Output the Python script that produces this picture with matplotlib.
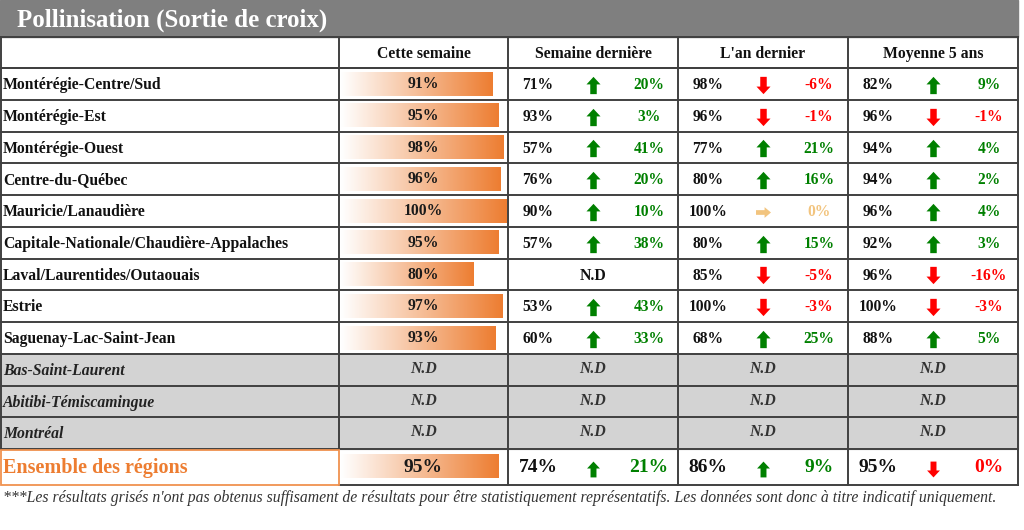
import numpy as np
import matplotlib
matplotlib.use('Agg')
import matplotlib.pyplot as plt
from matplotlib.path import Path
from matplotlib.patches import Rectangle
from matplotlib.colors import LinearSegmentedColormap

# Data
title = 'Pollinisation (Sortie de croix)'
headers = ['Cette semaine', 'Semaine dernière', "L'an dernier", 'Moyenne 5 ans']
regions = ['Montérégie-Centre/Sud', 'Montérégie-Est', 'Montérégie-Ouest', 'Centre-du-Québec',
           'Mauricie/Lanaudière', 'Capitale-Nationale/Chaudière-Appalaches',
           'Laval/Laurentides/Outaouais', 'Estrie', 'Saguenay-Lac-Saint-Jean',
           'Bas-Saint-Laurent', 'Abitibi-Témiscamingue', 'Montréal']
this_week = [91, 95, 98, 96, 100, 95, 80, 97, 93, None, None, None]
last_week = [71, 93, 57, 76, 90, 57, None, 53, 60, None, None, None]
last_week_diff = [20, 3, 41, 20, 10, 38, None, 43, 33, None, None, None]
last_year = [98, 96, 77, 80, 100, 80, 85, 100, 68, None, None, None]
last_year_diff = [-6, -1, 21, 16, 0, 15, -5, -3, 25, None, None, None]
avg5 = [82, 96, 94, 94, 96, 92, 96, 100, 88, None, None, None]
avg5_diff = [9, -1, 4, 2, 4, 3, -16, -3, 5, None, None, None]
grey_rows = ['Bas-Saint-Laurent', 'Abitibi-Témiscamingue', 'Montréal']

total_label = 'Ensemble des régions'
total_this_week = 95
total_values = [74, 86, 95]
total_diffs = [21, 9, -0.3]

footer = ("***Les résultats grisés n'ont pas obtenus suffisament de résultats pour être "
          "statistiquement représentatifs. Les données sont donc à titre indicatif uniquement.")

# Style
FONT = 'Liberation Serif'
LINE = '#404040'
GREEN = '#008000'
RED = '#FF0000'
NEUTRAL = '#F2C47E'
ORANGE = '#ED7D31'
GREY_BG = '#D3D3D3'

col_x = [1, 339, 508, 678, 848, 1018]
head_top, head_bot = 37, 68
row_h = 31.75
row_y = [head_bot + i * row_h for i in range(len(regions) + 1)]
tot_top, tot_bot = row_y[-1], 485
bar_full = 166

up = Path([(0, 8), (6.5, 1), (3, 1), (3, -8), (-3, -8), (-3, 1), (-6.5, 1), (0, 8)], closed=True)
down = Path([(0, -8), (6.5, -1), (3, -1), (3, 8), (-3, 8), (-3, -1), (-6.5, -1), (0, -8)], closed=True)
right = Path([(7, 0), (1, 5), (1, 2.2), (-7, 2.2), (-7, -2.2), (1, -2.2), (1, -5), (7, 0)], closed=True)

cmap = LinearSegmentedColormap.from_list('bar', ['#FFFFFF', ORANGE])
grad = np.linspace(0, 1, 256).reshape(1, -1)

fig = plt.figure(figsize=(10.24, 5.30), dpi=100)
ax = fig.add_axes([0, 0, 1, 1])


def txt(x, yc, s, fs, ha='center', color='#111111', **kw):
    # place the text so that its capitals are centred on yc
    ax.text(x, yc + 0.33 * fs / 0.72, s, fontsize=fs, fontweight='bold', family=FONT,
            ha=ha, va='baseline', color=color, zorder=5, **kw)


# title bar
ax.add_patch(Rectangle((0, 0), 1018, 36.5, color='#7F7F7F', zorder=1))
txt(17, 18.5, title, 17.9, ha='left', color='white')

# headers
for i, h in enumerate(headers):
    txt((col_x[i + 1] + col_x[i + 2]) / 2, (head_top + head_bot) / 2, h, 11.3)


def bar(v, top, bot, fs, dy=0):
    x0 = col_x[1] + 2
    ax.imshow(grad, cmap=cmap, extent=[x0, x0 + v / 100 * bar_full, bot, top],
              aspect='auto', interpolation='bicubic', zorder=2)
    txt((col_x[1] + col_x[2]) / 2, (top + bot) / 2 + dy, f'{v}%', fs, color='#1a1a1a')


def trend(col, value, diff, yc, fs, ms):
    left = col_x[col]
    txt(left + 30, yc, f'{value}%', fs)
    if diff > 0:
        color, mk, s = GREEN, up, ms
    elif diff < 0:
        color, mk, s = RED, down, ms
    else:
        color, mk, s = NEUTRAL, right, ms * 0.75
    ax.scatter([left + 85], [yc + 1], marker=mk, s=s, color=color, linewidths=0, zorder=5)
    txt(left + 141, yc, f'{round(diff)}%', fs, color=color)


for r, name in enumerate(regions):
    top, bot = row_y[r], row_y[r + 1]
    yc = (top + bot) / 2
    if name in grey_rows:
        ax.add_patch(Rectangle((col_x[0], top), col_x[-1] - col_x[0], row_h,
                               color=GREY_BG, zorder=1))
        txt(3, yc, name, 11.3, ha='left', color='#222222', style='italic')
        for c in range(1, 5):
            txt((col_x[c] + col_x[c + 1]) / 2, yc - 2, 'N.D', 11.3, color='#333333',
                style='italic')
        continue
    txt(3, yc, name, 11.3, ha='left')
    bar(this_week[r], top + 4, bot - 4, 11.3, dy=-1)
    cols = [(last_week[r], last_week_diff[r]), (last_year[r], last_year_diff[r]),
            (avg5[r], avg5_diff[r])]
    for k, (v, d) in enumerate(cols):
        if v is None:
            txt((col_x[k + 2] + col_x[k + 3]) / 2, yc, 'N.D', 11.3)
        else:
            trend(k + 2, v, d, yc, 11.2, 155)

# total row
yc = (tot_top + tot_bot) / 2
txt(3, yc - 1, total_label, 14.5, ha='left', color=ORANGE)
bar(total_this_week, tot_top + 5, tot_bot - 7, 14, dy=0)
for k, (v, d) in enumerate(zip(total_values, total_diffs)):
    left = col_x[k + 2]
    txt(left + 30, yc - 1, f'{v}%', 14)
    color, mk = (GREEN, up) if d > 0 else (RED, down)
    ax.scatter([left + 85], [yc + 2], marker=mk, s=130, color=color, linewidths=0, zorder=5)
    txt(left + 141, yc - 1, f'{round(d)}%', 14, color=color)

# grid lines
lw = 1.4
for y in [head_top, head_bot] + row_y:
    ax.plot([col_x[0], col_x[-1]], [y, y], color=LINE, lw=lw, zorder=4, solid_capstyle='projecting')
ax.plot([col_x[1], col_x[-1]], [tot_bot, tot_bot], color=LINE, lw=lw, zorder=4)
for i, x in enumerate(col_x):
    ax.plot([x, x], [head_top, tot_top], color=LINE, lw=lw, zorder=4)
    if i >= 2:
        ax.plot([x, x], [tot_top, tot_bot], color=LINE, lw=lw, zorder=4)
ax.add_patch(Rectangle((col_x[0], tot_top + 1), col_x[1] - col_x[0], tot_bot - tot_top - 1,
                       fill=False, edgecolor='#F0924F', lw=1.3, zorder=4))

ax.text(3, 502, footer, fontsize=11.3, style='italic', family=FONT, ha='left', va='baseline',
        color='#333333', zorder=5)

ax.set_xlim(0, 1024)
ax.set_ylim(530, 0)
ax.axis('off')
fig.savefig('out.png', dpi=100)
